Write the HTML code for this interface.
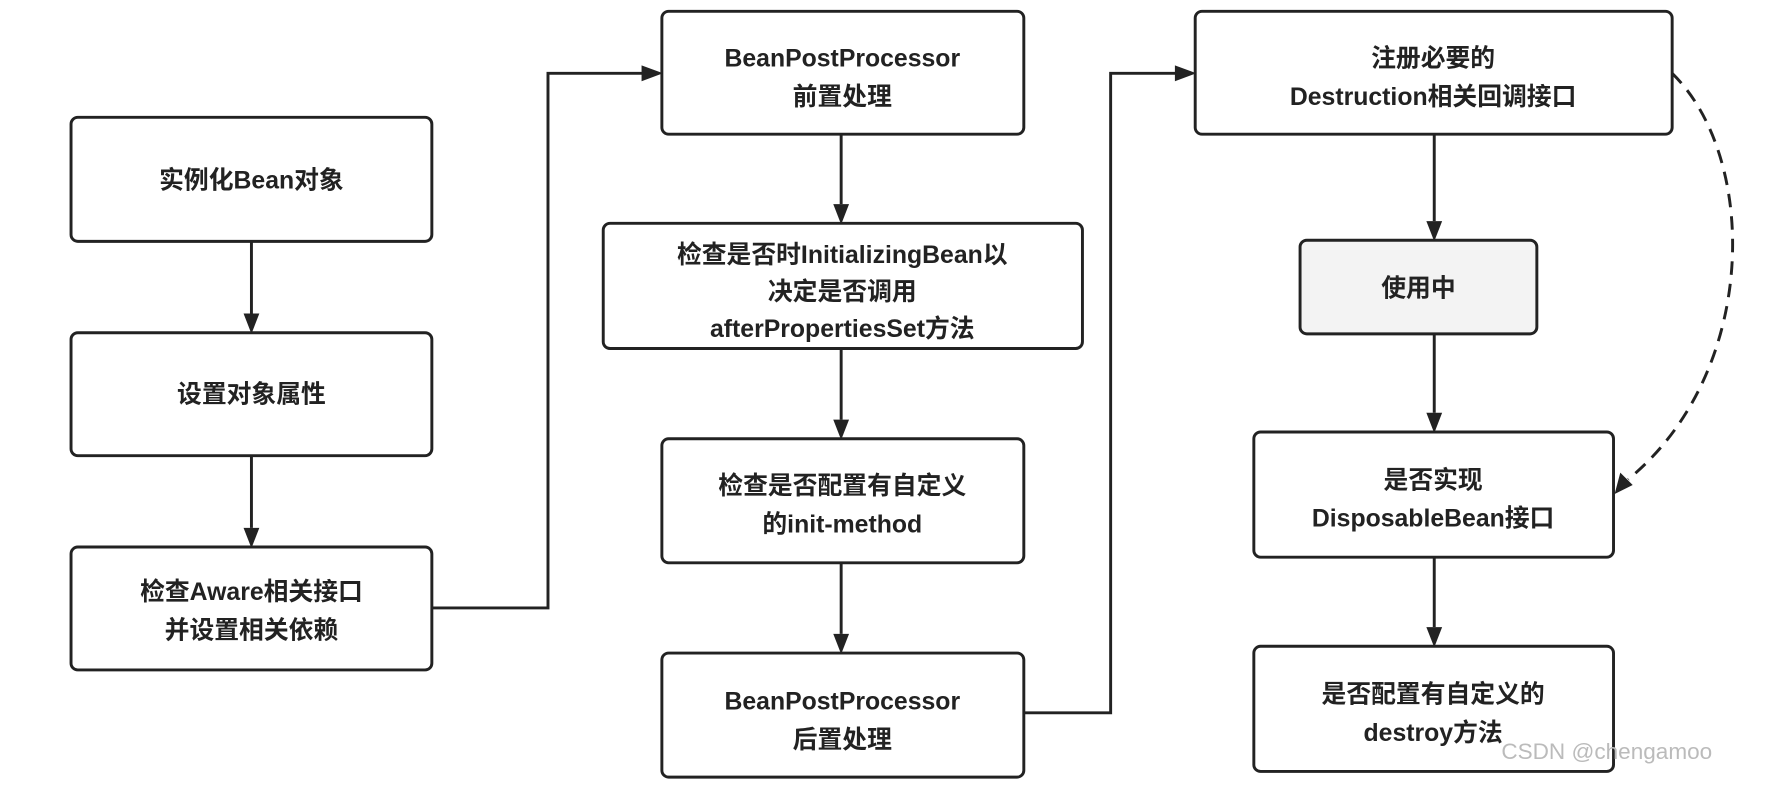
<!DOCTYPE html>
<html><head><meta charset="utf-8"><style>
html,body{margin:0;padding:0;background:#fff;}
svg{display:block;}
text{font-family:"Liberation Sans","Noto Sans CJK SC",sans-serif;font-weight:bold;font-size:22px;fill:#222;text-anchor:middle;}
</style></head><body>
<svg width="1768" height="785" viewBox="0 0 1568 696" preserveAspectRatio="none" xmlns="http://www.w3.org/2000/svg">
<defs>
<marker id="a" markerWidth="10" markerHeight="8" refX="9.5" refY="4" orient="auto" markerUnits="userSpaceOnUse" viewBox="0 0 10 8">
</marker>
</defs>
<g fill="#fff" stroke="#222" stroke-width="2.6">
<rect x="63" y="104" width="320" height="110" rx="6"/>
<rect x="63" y="295" width="320" height="109" rx="6"/>
<rect x="63" y="485" width="320" height="109" rx="6"/>
<rect x="587" y="10" width="321" height="109" rx="6"/>
<rect x="535" y="198" width="425" height="111" rx="6"/>
<rect x="587" y="389" width="321" height="110" rx="6"/>
<rect x="587" y="579" width="321" height="110" rx="6"/>
<rect x="1060" y="10" width="423" height="109" rx="6"/>
<rect x="1153" y="213" width="210" height="83" rx="6" fill="#f3f3f3"/>
<rect x="1112" y="383" width="319" height="111" rx="6"/>
<rect x="1112" y="573" width="319" height="111" rx="6"/>
</g>
<g stroke="#222" stroke-width="2.6" fill="none">
<line x1="223" y1="214" x2="223" y2="278"/>
<line x1="223" y1="404" x2="223" y2="468"/>
<polyline points="383,539 486,539 486,65 570,65"/>
<line x1="746" y1="119" x2="746" y2="181"/>
<line x1="746" y1="309" x2="746" y2="372"/>
<line x1="746" y1="499" x2="746" y2="562"/>
<polyline points="908,632 985,632 985,65 1043,65"/>
<line x1="1272" y1="119" x2="1272" y2="196"/>
<line x1="1272" y1="296" x2="1272" y2="366"/>
<line x1="1272" y1="494" x2="1272" y2="556"/>
<path d="M1483,65 C1560,140 1560,330 1444,425" stroke-dasharray="12,8"/>
</g>
<g fill="#222">
<polygon points="216,278 230,278 223,296"/>
<polygon points="216,468 230,468 223,486"/>
<polygon points="569,58 569,72 588,65"/>
<polygon points="739,181 753,181 746,199"/>
<polygon points="739,372 753,372 746,390"/>
<polygon points="739,562 753,562 746,580"/>
<polygon points="1042,58 1042,72 1061,65"/>
<polygon points="1265,196 1279,196 1272,214"/>
<polygon points="1265,366 1279,366 1272,384"/>
<polygon points="1265,556 1279,556 1272,574"/>
<polygon points="1432,438 1437,419 1448,430"/>
</g>
<text x="223" y="167">实例化Bean对象</text>
<text x="223" y="357">设置对象属性</text>
<text x="223" y="532">检查Aware相关接口</text>
<text x="223" y="566">并设置相关依赖</text>
<text x="747" y="59">BeanPostProcessor</text>
<text x="747" y="93">前置处理</text>
<text x="747" y="233">检查是否时InitializingBean以</text>
<text x="747" y="266">决定是否调用</text>
<text x="747" y="299">afterPropertiesSet方法</text>
<text x="747" y="438">检查是否配置有自定义</text>
<text x="747" y="472">的init-method</text>
<text x="747" y="629">BeanPostProcessor</text>
<text x="747" y="663">后置处理</text>
<text x="1271" y="59">注册必要的</text>
<text x="1271" y="93">Destruction相关回调接口</text>
<text x="1258" y="263">使用中</text>
<text x="1271" y="433">是否实现</text>
<text x="1271" y="467">DisposableBean接口</text>
<text x="1271" y="623">是否配置有自定义的</text>
<text x="1271" y="657">destroy方法</text>
<text x="1425" y="673" style="font-weight:normal;font-size:20px;fill:#bbb;">CSDN @chengamoo</text>
</svg>
</body></html>
